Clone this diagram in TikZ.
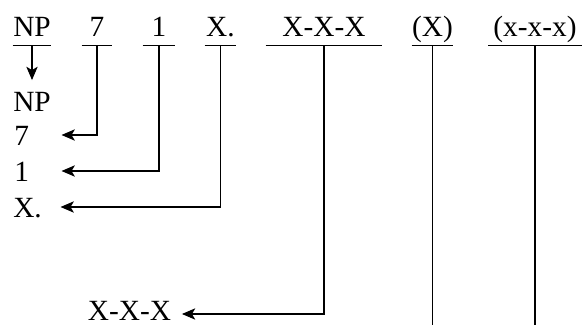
\documentclass[tikz,border=0pt]{standalone}
\usepackage{fontspec}
\setmainfont{Liberation Serif}
\usetikzlibrary{arrows.meta}
\tikzset{
  >={Stealth[length=10pt,width=8.5pt,inset=2.5pt]},
  head/.style={anchor=base,inner xsep=0pt,inner ysep=6.75pt,text height=15pt,text depth=0pt,font=\fontsize{22}{26}\selectfont},
  item/.style={anchor=base west,inner sep=0pt,text height=15pt,text depth=0pt,align=left,font=\fontsize{22}{26}\selectfont},
  uline/.style={line width=0.9pt},
  link/.style={line width=0.8pt},
  arr/.style={->,line width=0.8pt},
}
\begin{document}
\begin{tikzpicture}[x=0.75pt,y=-0.75pt]
\useasboundingbox (0,0) rectangle (582,325);
% column heads
\node[head,minimum width=28.5pt] (hnp) at (32,36) {NP};
\node[head,minimum width=22.5pt] (h7) at (97,36) {7};
\node[head,minimum width=24pt] (h1) at (159,36) {1};
\node[head,minimum width=23.25pt] (hx) at (220.5,36) {X.};
\node[head,minimum width=87pt] (hxxx) at (324,36) {X-X-X};
\node[head,minimum width=30.75pt] (hpx) at (432.5,36) {(X)};
\node[head,minimum width=69.75pt] (hpxxx) at (535,36) {(x-x-x)};
\foreach \n in {hnp,h7,h1,hx,hxxx,hpx,hpxxx}
  \draw[uline] (\n.south west) -- (\n.south east);
% left column
\node[item,text width=35.25pt] (lnp) at (13,111) {NP};
\node[item,text width=35.25pt] (l7) at (14,145) {7};
\node[item,text width=35.25pt] (l1) at (14,181) {1};
\node[item,text width=35.25pt] (lx) at (13,217) {X.};
\node[item,inner xsep=8pt,text height=9pt] (lxxx) at (77,320) {X-X-X};
\coordinate (bot) at (0,325);
% connectors
\draw[arr,shorten >=8pt] (hnp.south) -- (hnp.south |- lnp.north);
\draw[arr] (h7.south) |- (l7.east);
\draw[arr] (h1.south) |- (l1.east);
\draw[arr] (hx.south) |- (lx.east);
\draw[arr] (hxxx.south) |- (lxxx.east);
\draw[link] (hpx.south) -- (hpx.south |- bot);
\draw[link] (hpxxx.south) -- (hpxxx.south |- bot);
\end{tikzpicture}
\end{document}
